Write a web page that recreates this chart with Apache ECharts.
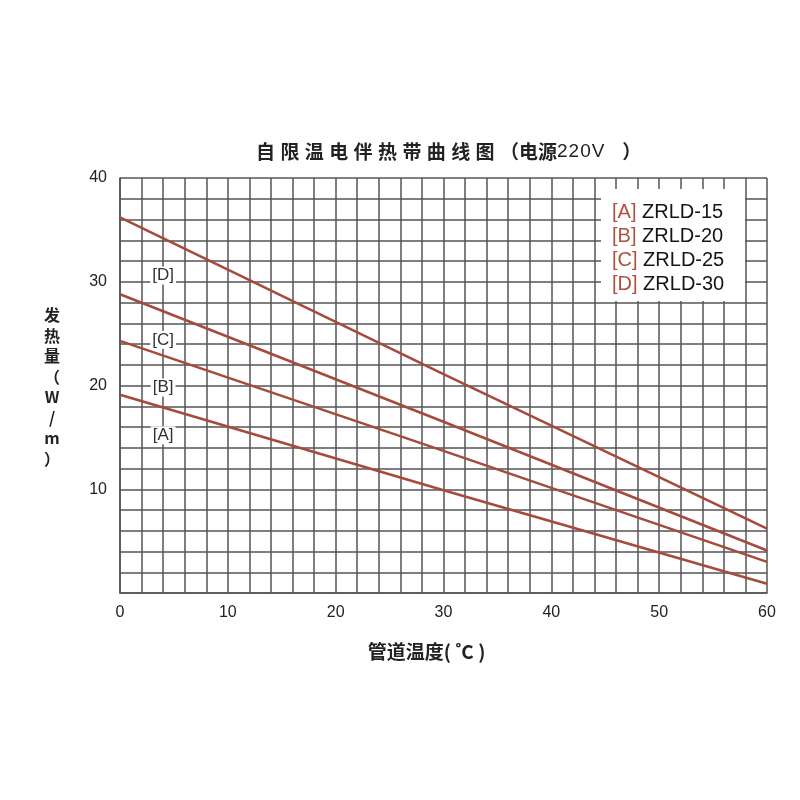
<!DOCTYPE html>
<html>
<head>
<meta charset="utf-8">
<script src="https://cdn.jsdelivr.net/npm/echarts@6/dist/echarts.min.js"></script>
<style>
html,body{margin:0;padding:0;background:#fff;}
#chart{width:800px;height:800px;}
</style>
</head>
<body>
<div id="chart"></div>
<script>
// ---- data ----
var temps = [0, 30, 60];                 // pipe temperature (°C)
var seriesKeys = ['[A]', '[B]', '[C]', '[D]'];
var seriesNames = ['ZRLD-15', 'ZRLD-20', 'ZRLD-25', 'ZRLD-30'];
var valuesA = [19.1, 9.9, 0.9];
var valuesB = [24.3, 13.7, 3.0];
var valuesC = [28.8, 16.5, 4.1];
var valuesD = [36.2, 21.1, 6.2];
var xTickLabels = [0, 10, 20, 30, 40, 50, 60];
var yTickLabels = [10, 20, 30, 40];
var titleText = '自限温电伴热带曲线图（电源220V）';
var xName = '管道温度( ˚C )';
var yName = '发热量（W/m）';
// in-plot key labels anchored in data coordinates
var keyLabelX = 4;
var keyLabelY = [15.2, 19.8, 24.4, 30.6];

var allValues = [valuesA, valuesB, valuesC, valuesD];
var lineColor = '#a64b3c';
var gridColor = '#555';
var cjk = '"Noto Sans CJK SC", "Noto Sans", sans-serif';
var latin = '"Liberation Sans", Arial, sans-serif';

var chart = echarts.init(document.getElementById('chart'));

var series = allValues.map(function (vals, i) {
  return {
    type: 'line',
    name: seriesNames[i],
    data: temps.map(function (t, j) { return [t, vals[j]]; }),
    symbol: 'none',
    lineStyle: { color: lineColor, width: 2.6 },
    itemStyle: { color: lineColor },
    z: 3,
    markPoint: {
      symbol: 'rect',
      symbolSize: 0,
      silent: true,
      data: [{ coord: [keyLabelX, keyLabelY[i]], value: seriesKeys[i] }],
      label: {
        show: true,
        position: 'inside',
        formatter: seriesKeys[i],
        color: '#333',
        fontFamily: latin,
        fontSize: 17,
        backgroundColor: '#fff',
        padding: [1, 2, 0, 2]
      }
    }
  };
});

// title as per-character rich tokens to reproduce the letter spacing
function spacedTitle(str) {
  return str.split('').map(function (ch, i) {
    var style;
    if (i < 10) style = 'c';
    else if (ch === '（') style = 'p';
    else if (ch === '）') style = 'q';
    else if (/[0-9A-Za-z]/.test(ch)) style = 'd';
    else style = 'e';
    return '{' + style + '|' + ch + '}';
  }).join('');
}

var legendChildren = [{
  type: 'rect',
  x: 0, y: 0,
  z: 20,
  shape: { x: 0, y: 0, width: 144, height: 112 },
  style: { fill: '#ffffff', stroke: null }
}];
seriesNames.forEach(function (n, i) {
  legendChildren.push({
    type: 'text',
    x: 11,
    y: 23 + i * 24,
    z: 21,
    style: {
      text: '{k|' + seriesKeys[i] + '} {n|' + n + '}',
      verticalAlign: 'middle',
      textVerticalAlign: 'middle',
      rich: {
        k: { color: '#b0513e', fill: '#b0513e', fontSize: 20, fontFamily: latin },
        n: { color: '#151515', fill: '#151515', fontSize: 20, fontFamily: latin }
      },
      font: '20px ' + latin
    }
  });
});

var option = {
  backgroundColor: '#fff',
  animation: false,
  title: {
    text: spacedTitle(titleText),
    left: 251,
    top: 137,
    textStyle: {
      rich: {
        c: { fontSize: 19, fontWeight: 'bold', color: '#222', fontFamily: cjk, padding: [0, 5.4, 0, 0] },
        p: { fontSize: 19, fontWeight: 'bold', color: '#222', fontFamily: cjk },
        e: { fontSize: 19, fontWeight: 'bold', color: '#222', fontFamily: cjk },
        d: { fontSize: 19, fontWeight: 'normal', color: '#222', fontFamily: latin, padding: [0, 1, 0, 0] },
        q: { fontSize: 19, fontWeight: 'bold', color: '#222', fontFamily: cjk, padding: [0, 0, 0, 17] }
      }
    }
  },
  grid: { left: 120, right: 33, top: 178, bottom: 207, containLabel: false },
  xAxis: {
    type: 'value',
    min: 0, max: 60, interval: 2,
    name: xName,
    nameLocation: 'middle',
    nameGap: 49,
    nameTextStyle: { fontSize: 19, fontWeight: 'bold', color: '#222', fontFamily: cjk, padding: [0, 34, 0, 0] },
    axisLine: { show: true, lineStyle: { color: gridColor, width: 1.6 } },
    axisTick: { show: false },
    axisLabel: {
      margin: 12,
      fontSize: 16, color: '#222', fontFamily: latin,
      formatter: function (v) { return xTickLabels.indexOf(v) >= 0 ? String(v) : ''; }
    },
    splitLine: { show: true, lineStyle: { color: gridColor, width: 1.5 } }
  },
  yAxis: {
    type: 'value',
    min: 0, max: 40, interval: 2,
    axisLine: { show: true, lineStyle: { color: gridColor, width: 1.6 } },
    axisTick: { show: false },
    axisLabel: {
      margin: 13,
      fontSize: 16, color: '#222', fontFamily: latin,
      formatter: function (v) { return yTickLabels.indexOf(v) >= 0 ? String(v) : ''; }
    },
    splitLine: { show: true, lineStyle: { color: gridColor, width: 1.5 } }
  },
  graphic: [
    {
      type: 'group',
      left: 601,
      top: 189,
      z: 20,
      children: legendChildren
    },
    {
      type: 'text',
      left: 44,
      top: 305,
      style: {
        text: yName.split('').join('\n'),
        font: 'bold 16px ' + cjk,
        lineHeight: 20.5,
        fill: '#222',
        textAlign: 'center'
      }
    }
  ],
  series: series
};
chart.setOption(option);
</script>
</body>
</html>
